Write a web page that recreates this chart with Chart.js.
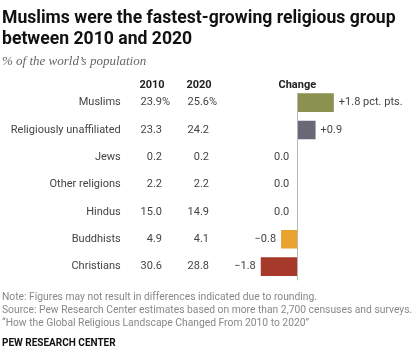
<!DOCTYPE html>
<html>
<head>
<meta charset="utf-8">
<script src="https://cdn.jsdelivr.net/npm/chart.js@4.4.0/dist/chart.umd.min.js"></script>
<style>
  html, body { margin: 0; padding: 0; background: #fff; }
  #wrap { position: relative; width: 420px; height: 362px; overflow: hidden; font-family: Roboto, "Liberation Sans", sans-serif; }
  #chart { position: absolute; left: 0; top: 0; }
  .title { position: absolute; left: 2px; top: 7px; font-size: 17.6px; line-height: 21px; font-weight: bold; color: #111; }
  .subtitle { position: absolute; left: 2px; top: 53px; font-family: "Liberation Serif", serif; font-style: italic; font-size: 13px; color: #666; }
  .notes { position: absolute; left: 2px; top: 290px; font-size: 10.3px; line-height: 13px; color: #888; }
  .brand { position: absolute; left: 2px; top: 337px; font-size: 10px; font-weight: bold; color: #111; }
</style>
</head>
<body>
<div id="wrap">
  <canvas id="chart" width="420" height="362"></canvas>
  <div class="title">Muslims were the fastest-growing religious group<br>between 2010 and 2020</div>
  <div class="subtitle">% of the world’s population</div>
  <div class="notes">Note: Figures may not result in differences indicated due to rounding.<br>Source: Pew Research Center estimates based on more than 2,700 censuses and surveys.<br>“How the Global Religious Landscape Changed From 2010 to 2020”</div>
  <div class="brand">PEW RESEARCH CENTER</div>
</div>
<script>
const categories = ['Muslims', 'Religiously unaffiliated', 'Jews', 'Other religions', 'Hindus', 'Buddhists', 'Christians'];
const values2010 = [23.9, 23.3, 0.2, 2.2, 15.0, 4.9, 30.6];
const values2020 = [25.6, 24.2, 0.2, 2.2, 14.9, 4.1, 28.8];
const changes = [1.8, 0.9, 0.0, 0.0, 0.0, -0.8, -1.8];
const columnHeaders = ['2010', '2020', 'Change'];

const barColors = ['#8b914f', '#6a6777', '#999', '#999', '#999', '#eba22f', '#a6392a'];
const textColor = '#444';
const bodyFont = '11px Roboto, "Liberation Sans", sans-serif';
const boldFont = 'bold 11px Roboto, "Liberation Sans", sans-serif';

function fmtChange(v, first) {
  if (v === 0) return '0.0';
  const s = (v > 0 ? '+' : '\u2212') + Math.abs(v).toFixed(1);
  return first ? s + ' pct. pts.' : s;
}

const tablePlugin = {
  id: 'tablePlugin',
  afterDatasetsDraw(chart) {
    const ctx = chart.ctx;
    const x = chart.scales.x;
    const y = chart.scales.y;
    const area = chart.chartArea;
    const zero = x.getPixelForValue(0);
    const bars = chart.getDatasetMeta(0).data;

    ctx.save();
    // zero line
    ctx.strokeStyle = '#b5b5b5';
    ctx.lineWidth = 1;
    ctx.beginPath();
    ctx.moveTo(Math.round(zero) + 0.5, area.top + 4);
    ctx.lineTo(Math.round(zero) + 0.5, area.bottom);
    ctx.stroke();

    // headers
    ctx.font = boldFont;
    ctx.fillStyle = '#222';
    ctx.textAlign = 'center';
    ctx.textBaseline = 'middle';
    const hy = area.top - 4;
    ctx.fillText(columnHeaders[0], 152, hy);
    ctx.fillText(columnHeaders[1], 199, hy);
    ctx.fillText(columnHeaders[2], zero, hy);

    ctx.font = bodyFont;
    ctx.fillStyle = textColor;
    categories.forEach((c, i) => {
      const py = y.getPixelForValue(i);
      ctx.textAlign = 'right';
      ctx.fillText(values2010[i].toFixed(1), 162, py);
      ctx.fillText(values2020[i].toFixed(1), 209, py);
      if (i === 0) {
        ctx.textAlign = 'left';
        ctx.fillText('%', 162, py);
        ctx.fillText('%', 209, py);
      }
      const v = changes[i];
      const bar = bars[i];
      const label = fmtChange(v, i === 0);
      if (v > 0) {
        ctx.textAlign = 'left';
        ctx.fillText(label, bar.x + 5, py);
      } else if (v < 0) {
        ctx.textAlign = 'right';
        ctx.fillText(label, bar.x - 5, py);
      } else {
        ctx.textAlign = 'right';
        ctx.fillText(label, zero - 8, py);
      }
    });
    ctx.restore();
  }
};

new Chart(document.getElementById('chart'), {
  type: 'bar',
  data: {
    labels: categories,
    datasets: [{
      data: changes,
      backgroundColor: barColors,
      borderWidth: 0,
      categoryPercentage: 1,
      barPercentage: 0.68
    }]
  },
  options: {
    indexAxis: 'y',
    responsive: false,
    animation: false,
    devicePixelRatio: 1,
    layout: { padding: { top: 89, bottom: 81.7, left: 0, right: 41.5 } },
    plugins: { legend: { display: false }, tooltip: { enabled: false } },
    scales: {
      x: {
        display: false,
        min: -8.5,
        max: 4
      },
      y: {
        afterFit(scale) { scale.width = 124.75; },
        grid: { display: false, drawTicks: false },
        border: { display: false },
        ticks: {
          padding: 4,
          color: textColor,
          font: { family: 'Roboto, "Liberation Sans", sans-serif', size: 11 }
        }
      }
    }
  },
  plugins: [tablePlugin]
});
</script>
</body>
</html>
